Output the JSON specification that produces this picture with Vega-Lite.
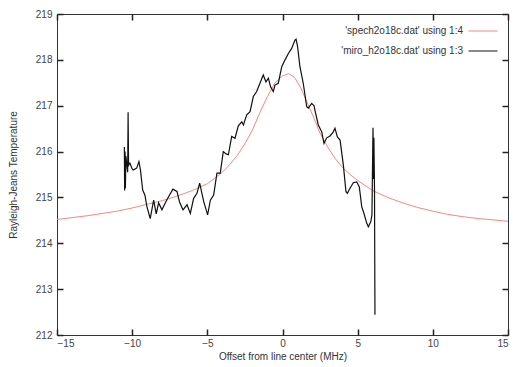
{
  "$schema": "https://vega.github.io/schema/vega-lite/v6.json",
  "width": 451,
  "height": 321,
  "autosize": "none",
  "padding": {"left": 57, "top": 14, "right": 5, "bottom": 32},
  "config": {
    "font": "Liberation Sans",
    "view": {"stroke": "#333", "strokeWidth": 1},
    "legend": {
      "labelFont": "Liberation Sans",
      "labelFontSize": 10,
      "labelColor": "#333"
    }
  },
  "datasets": {
    "model": [
      {"offset": -15, "temp": 214.52}, {"offset": -14, "temp": 214.56}, {"offset": -13, "temp": 214.6},
      {"offset": -12, "temp": 214.65}, {"offset": -11, "temp": 214.7}, {"offset": -10, "temp": 214.77},
      {"offset": -9, "temp": 214.85}, {"offset": -8, "temp": 214.93}, {"offset": -7, "temp": 215.03},
      {"offset": -6, "temp": 215.15}, {"offset": -5, "temp": 215.3}, {"offset": -4.5, "temp": 215.42},
      {"offset": -4, "temp": 215.55}, {"offset": -3.5, "temp": 215.72}, {"offset": -3, "temp": 215.92},
      {"offset": -2.5, "temp": 216.17}, {"offset": -2, "temp": 216.47}, {"offset": -1.5, "temp": 216.85},
      {"offset": -1, "temp": 217.2}, {"offset": -0.5, "temp": 217.5}, {"offset": 0, "temp": 217.65},
      {"offset": 0.4, "temp": 217.7}, {"offset": 0.8, "temp": 217.62}, {"offset": 1.2, "temp": 217.4},
      {"offset": 1.6, "temp": 217.1}, {"offset": 2, "temp": 216.8}, {"offset": 2.5, "temp": 216.4},
      {"offset": 3, "temp": 216.1}, {"offset": 3.5, "temp": 215.85}, {"offset": 4, "temp": 215.65},
      {"offset": 4.5, "temp": 215.5}, {"offset": 5, "temp": 215.37}, {"offset": 6, "temp": 215.15},
      {"offset": 7, "temp": 215.0}, {"offset": 8, "temp": 214.88}, {"offset": 9, "temp": 214.78},
      {"offset": 10, "temp": 214.7}, {"offset": 11, "temp": 214.63}, {"offset": 12, "temp": 214.58},
      {"offset": 13, "temp": 214.54}, {"offset": 14, "temp": 214.51}, {"offset": 15, "temp": 214.48}
    ],
    "obs": [
      {"i": 1, "offset": -10.52, "temp": 216.1}, {"i": 2, "offset": -10.5, "temp": 215.15},
      {"i": 3, "offset": -10.47, "temp": 216.0}, {"i": 4, "offset": -10.45, "temp": 215.2},
      {"i": 5, "offset": -10.42, "temp": 215.9}, {"i": 6, "offset": -10.3, "temp": 215.55},
      {"i": 7, "offset": -10.27, "temp": 216.86}, {"i": 8, "offset": -10.24, "temp": 215.7},
      {"i": 9, "offset": -10.15, "temp": 215.75}, {"i": 10, "offset": -10.0, "temp": 215.62},
      {"i": 11, "offset": -9.93, "temp": 215.6}, {"i": 12, "offset": -9.7, "temp": 215.64},
      {"i": 13, "offset": -9.55, "temp": 215.78}, {"i": 14, "offset": -9.45, "temp": 215.6},
      {"i": 15, "offset": -9.3, "temp": 215.16}, {"i": 16, "offset": -9.15, "temp": 215.05},
      {"i": 17, "offset": -9.02, "temp": 214.8}, {"i": 18, "offset": -8.8, "temp": 214.54},
      {"i": 19, "offset": -8.57, "temp": 214.94}, {"i": 20, "offset": -8.4, "temp": 214.64},
      {"i": 21, "offset": -8.24, "temp": 214.88}, {"i": 22, "offset": -8.02, "temp": 214.73},
      {"i": 23, "offset": -7.8, "temp": 214.88}, {"i": 24, "offset": -7.57, "temp": 215.02},
      {"i": 25, "offset": -7.29, "temp": 215.18}, {"i": 26, "offset": -7.02, "temp": 215.13},
      {"i": 27, "offset": -6.85, "temp": 214.9}, {"i": 28, "offset": -6.62, "temp": 214.73},
      {"i": 29, "offset": -6.35, "temp": 214.84}, {"i": 30, "offset": -6.13, "temp": 214.65},
      {"i": 31, "offset": -5.91, "temp": 214.98}, {"i": 32, "offset": -5.69, "temp": 215.09},
      {"i": 33, "offset": -5.51, "temp": 215.31}, {"i": 34, "offset": -5.24, "temp": 214.91},
      {"i": 35, "offset": -4.98, "temp": 214.62}, {"i": 36, "offset": -4.8, "temp": 214.94},
      {"i": 37, "offset": -4.58, "temp": 215.05}, {"i": 38, "offset": -4.36, "temp": 215.53},
      {"i": 39, "offset": -4.14, "temp": 215.53}, {"i": 40, "offset": -3.94, "temp": 216.0},
      {"i": 41, "offset": -3.75, "temp": 215.95}, {"i": 42, "offset": -3.6, "temp": 215.93},
      {"i": 43, "offset": -3.38, "temp": 216.33}, {"i": 44, "offset": -3.16, "temp": 216.29},
      {"i": 45, "offset": -2.94, "temp": 216.56}, {"i": 46, "offset": -2.71, "temp": 216.65},
      {"i": 47, "offset": -2.6, "temp": 216.58}, {"i": 48, "offset": -2.38, "temp": 216.8},
      {"i": 49, "offset": -2.16, "temp": 216.87}, {"i": 50, "offset": -1.94, "temp": 217.2},
      {"i": 51, "offset": -1.72, "temp": 217.31}, {"i": 52, "offset": -1.5, "temp": 217.49},
      {"i": 53, "offset": -1.28, "temp": 217.67}, {"i": 54, "offset": -1.1, "temp": 217.52},
      {"i": 55, "offset": -0.94, "temp": 217.6}, {"i": 56, "offset": -0.79, "temp": 217.41},
      {"i": 57, "offset": -0.61, "temp": 217.31}, {"i": 58, "offset": -0.5, "temp": 217.45},
      {"i": 59, "offset": -0.28, "temp": 217.49}, {"i": 60, "offset": -0.05, "temp": 217.85},
      {"i": 61, "offset": 0.17, "temp": 218.0}, {"i": 62, "offset": 0.39, "temp": 218.14},
      {"i": 63, "offset": 0.61, "temp": 218.25}, {"i": 64, "offset": 0.83, "temp": 218.43},
      {"i": 65, "offset": 0.9, "temp": 218.45}, {"i": 66, "offset": 1.0, "temp": 218.3},
      {"i": 67, "offset": 1.16, "temp": 217.85}, {"i": 68, "offset": 1.38, "temp": 217.49},
      {"i": 69, "offset": 1.61, "temp": 216.98}, {"i": 70, "offset": 1.72, "temp": 216.95},
      {"i": 71, "offset": 1.94, "temp": 217.05}, {"i": 72, "offset": 2.1, "temp": 217.0},
      {"i": 73, "offset": 2.16, "temp": 216.9}, {"i": 74, "offset": 2.38, "temp": 216.58},
      {"i": 75, "offset": 2.61, "temp": 216.43}, {"i": 76, "offset": 2.76, "temp": 216.18},
      {"i": 77, "offset": 2.94, "temp": 216.3}, {"i": 78, "offset": 3.16, "temp": 216.34},
      {"i": 79, "offset": 3.38, "temp": 216.43}, {"i": 80, "offset": 3.49, "temp": 216.51},
      {"i": 81, "offset": 3.65, "temp": 216.32}, {"i": 82, "offset": 3.83, "temp": 216.25},
      {"i": 83, "offset": 4.05, "temp": 215.7}, {"i": 84, "offset": 4.22, "temp": 215.13},
      {"i": 85, "offset": 4.31, "temp": 215.09}, {"i": 86, "offset": 4.49, "temp": 215.2},
      {"i": 87, "offset": 4.71, "temp": 215.32}, {"i": 88, "offset": 4.94, "temp": 215.34},
      {"i": 89, "offset": 5.11, "temp": 215.23}, {"i": 90, "offset": 5.27, "temp": 214.8},
      {"i": 91, "offset": 5.42, "temp": 214.65}, {"i": 92, "offset": 5.6, "temp": 214.44},
      {"i": 93, "offset": 5.71, "temp": 214.36}, {"i": 94, "offset": 5.87, "temp": 214.47},
      {"i": 95, "offset": 5.95, "temp": 214.62}, {"i": 96, "offset": 6.02, "temp": 216.52},
      {"i": 97, "offset": 6.05, "temp": 215.4}, {"i": 98, "offset": 6.08, "temp": 216.3},
      {"i": 99, "offset": 6.12, "temp": 215.2}, {"i": 100, "offset": 6.15, "temp": 212.44}
    ]
  },
  "layer": [
    {
      "data": {"name": "model"},
      "mark": {"type": "line", "strokeWidth": 1},
      "encoding": {
        "x": {
          "field": "offset", "type": "quantitative",
          "scale": {"domain": [-15, 15], "nice": false, "zero": false},
          "axis": {"orient": "bottom", "values": [-15, -10, -5, 0, 5, 10, 15], "domain": false, "grid": false,
            "tickSize": -6, "tickWidth": 1.5, "tickColor": "#222",
            "labelFont": "Liberation Sans", "labelFontSize": 10, "labelColor": "#444", "labelPadding": 9,
            "title": "Offset from line center (MHz)", "titleFont": "Liberation Sans", "titleFontSize": 10, "titleFontWeight": "normal", "titleColor": "#333", "titlePadding": 3}
        },
        "y": {
          "field": "temp", "type": "quantitative",
          "scale": {"domain": [212, 219], "nice": false, "zero": false},
          "axis": {"orient": "left", "values": [212, 213, 214, 215, 216, 217, 218, 219], "domain": false, "grid": false,
            "tickSize": -6, "tickWidth": 1.5, "tickColor": "#222",
            "labelFont": "Liberation Sans", "labelFontSize": 10, "labelColor": "#444", "labelPadding": 11,
            "title": "Rayleigh-Jeans Temperature", "titleFont": "Liberation Sans", "titleFontSize": 10, "titleFontWeight": "normal", "titleColor": "#333", "titlePadding": 17}
        },
        "color": {
          "datum": "'spech2o18c.dat' using 1:4", "type": "nominal",
          "scale": {"domain": ["'spech2o18c.dat' using 1:4", "'miro_h2o18c.dat' using 1:3"], "range": ["#ee8a8a", "#111111"]},
          "legend": {
            "title": null, "orient": "none", "legendX": 411, "legendY": 2,
            "symbolType": "stroke", "symbolSize": 841, "symbolStrokeWidth": 1,
            "labelAlign": "right", "labelOffset": -35, "rowPadding": -19, "padding": 0
          }
        }
      }
    },
    {
      "data": {"name": "obs"},
      "mark": {"type": "line", "strokeWidth": 1.2},
      "encoding": {
        "x": {"field": "offset", "type": "quantitative", "axis": {"orient": "top", "values": [-15, -10, -5, 0, 5, 10, 15], "domain": false, "grid": false, "tickSize": -6, "tickWidth": 1.5, "tickColor": "#222", "labels": false, "title": null}},
        "y": {"field": "temp", "type": "quantitative", "axis": {"orient": "right", "values": [212, 213, 214, 215, 216, 217, 218, 219], "domain": false, "grid": false, "tickSize": -6, "tickWidth": 1.5, "tickColor": "#222", "labels": false, "title": null}},
        "order": {"field": "i", "type": "quantitative"},
        "color": {"datum": "'miro_h2o18c.dat' using 1:3", "type": "nominal"}
      }
    }
  ],
  "resolve": {"axis": {"x": "independent", "y": "independent"}}
}
